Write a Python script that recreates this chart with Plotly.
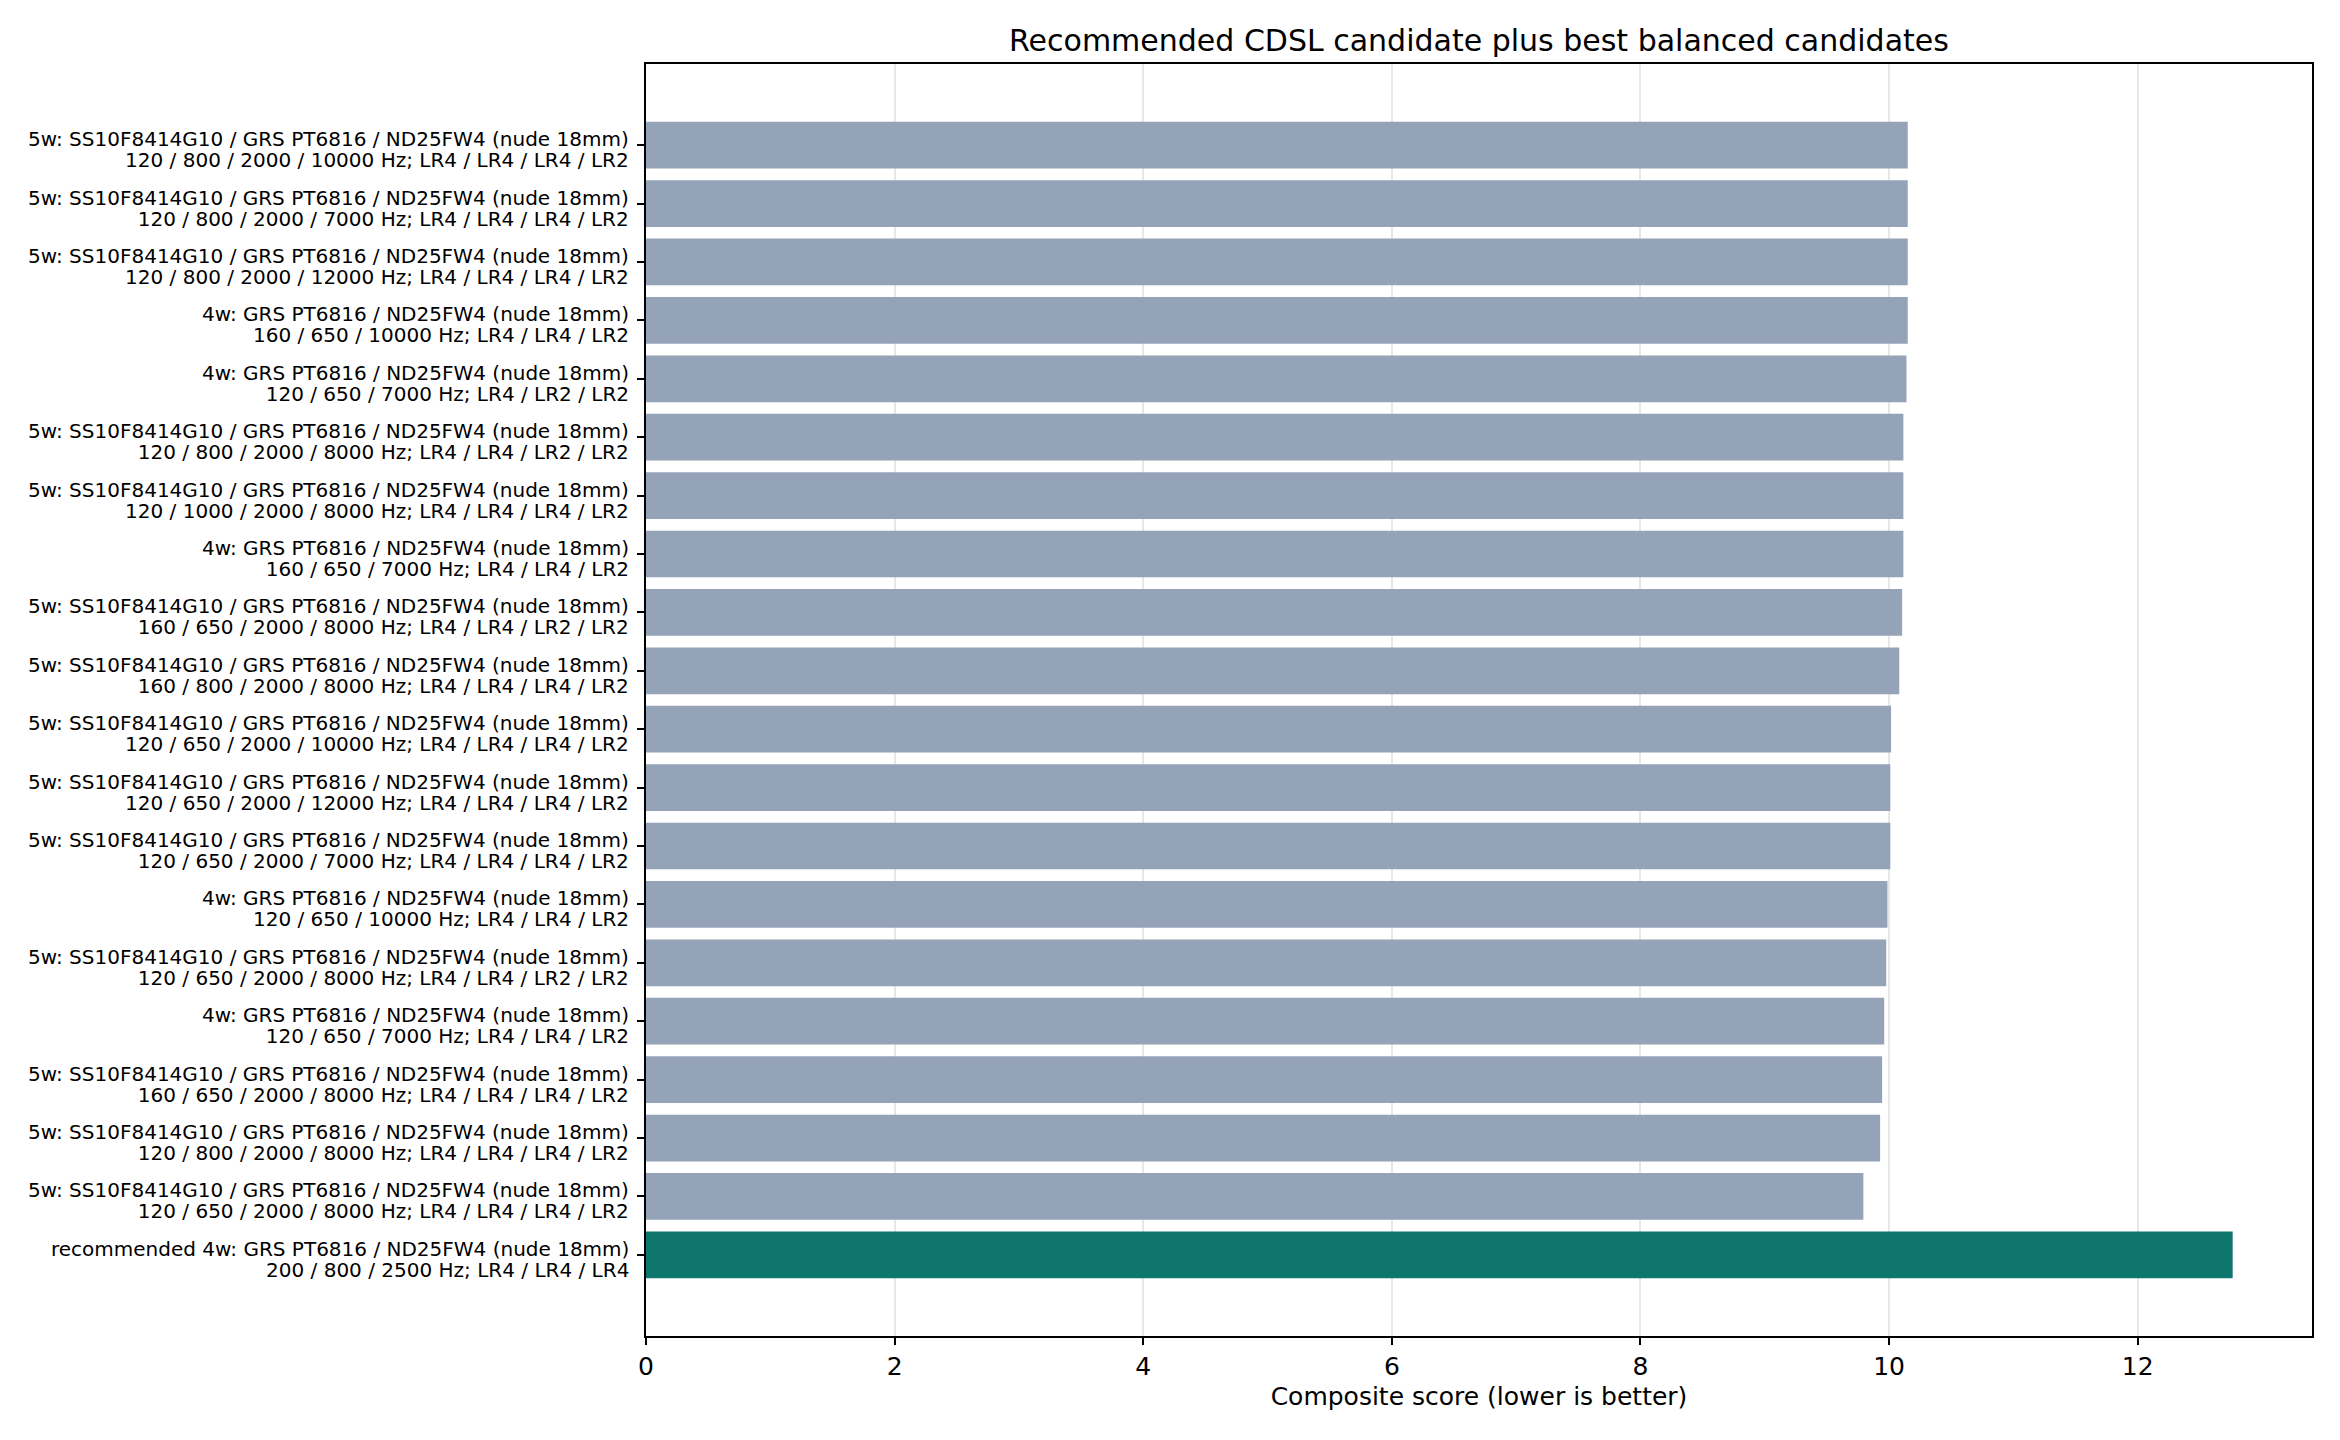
import plotly.graph_objects as go

line1_5w = "5w: SS10F8414G10 / GRS PT6816 / ND25FW4 (nude 18mm)"
line1_4w = "4w: GRS PT6816 / ND25FW4 (nude 18mm)"
line1_rec = "recommended 4w: GRS PT6816 / ND25FW4 (nude 18mm)"

# top to bottom as displayed
first_lines = [
    line1_5w, line1_5w, line1_5w, line1_4w, line1_4w,
    line1_5w, line1_5w, line1_4w, line1_5w, line1_5w,
    line1_5w, line1_5w, line1_5w, line1_4w, line1_5w,
    line1_4w, line1_5w, line1_5w, line1_5w, line1_rec,
]
second_lines = [
    "120 / 800 / 2000 / 10000 Hz; LR4 / LR4 / LR4 / LR2",
    "120 / 800 / 2000 / 7000 Hz; LR4 / LR4 / LR4 / LR2",
    "120 / 800 / 2000 / 12000 Hz; LR4 / LR4 / LR4 / LR2",
    "160 / 650 / 10000 Hz; LR4 / LR4 / LR2",
    "120 / 650 / 7000 Hz; LR4 / LR2 / LR2",
    "120 / 800 / 2000 / 8000 Hz; LR4 / LR4 / LR2 / LR2",
    "120 / 1000 / 2000 / 8000 Hz; LR4 / LR4 / LR4 / LR2",
    "160 / 650 / 7000 Hz; LR4 / LR4 / LR2",
    "160 / 650 / 2000 / 8000 Hz; LR4 / LR4 / LR2 / LR2",
    "160 / 800 / 2000 / 8000 Hz; LR4 / LR4 / LR4 / LR2",
    "120 / 650 / 2000 / 10000 Hz; LR4 / LR4 / LR4 / LR2",
    "120 / 650 / 2000 / 12000 Hz; LR4 / LR4 / LR4 / LR2",
    "120 / 650 / 2000 / 7000 Hz; LR4 / LR4 / LR4 / LR2",
    "120 / 650 / 10000 Hz; LR4 / LR4 / LR2",
    "120 / 650 / 2000 / 8000 Hz; LR4 / LR4 / LR2 / LR2",
    "120 / 650 / 7000 Hz; LR4 / LR4 / LR2",
    "160 / 650 / 2000 / 8000 Hz; LR4 / LR4 / LR4 / LR2",
    "120 / 800 / 2000 / 8000 Hz; LR4 / LR4 / LR4 / LR2",
    "120 / 650 / 2000 / 8000 Hz; LR4 / LR4 / LR4 / LR2",
    "200 / 800 / 2500 Hz; LR4 / LR4 / LR4",
]
scores = [
    10.150, 10.150, 10.150, 10.150, 10.140,
    10.115, 10.115, 10.115, 10.105, 10.082,
    10.016, 10.010, 10.010, 9.987, 9.977,
    9.961, 9.944, 9.928, 9.793, 12.764,
]
is_recommended = [False] * 19 + [True]

GREY = "#94a3b8"
TEAL = "#0f766e"

n = len(scores)
ypos = [n - 1 - i for i in range(n)]
span = '<span style="font-size:20px">{}</span>'
labels = [span.format(a) + "<br>" + span.format(b)
          for a, b in zip(first_lines, second_lines)]
colors = [TEAL if r else GREY for r in is_recommended]

fig = go.Figure()
fig.add_trace(go.Bar(
    x=scores, y=ypos, orientation="h",
    marker=dict(color=colors, line=dict(width=0)),
    width=0.8, showlegend=False,
))

# category labels drawn next to the y ticks
for yv, lab in zip(ypos, labels):
    fig.add_annotation(
        x=0, xref="paper", y=yv, yref="y",
        text=lab, showarrow=False,
        xanchor="right", yanchor="middle", align="right",
        xshift=-15, yshift=-4.5,
        font=dict(size=16.5, family="DejaVu Sans", color="black"),
    )

xmax = max(scores) * 1.05
fig.update_layout(
    width=2340, height=1440,
    margin=dict(l=646, r=28, t=64, b=104, autoexpand=False),
    paper_bgcolor="white", plot_bgcolor="white",
    font=dict(family="DejaVu Sans", color="black"),
    title=dict(
        text="Recommended CDSL candidate plus best balanced candidates",
        x=(646 + 2312) / 2 / 2340, xanchor="center",
        y=1 - 40 / 1440, yanchor="middle",
        font=dict(size=30, family="DejaVu Sans", color="black"),
    ),
    xaxis=dict(
        range=[0, xmax],
        tickvals=[0, 2, 4, 6, 8, 10, 12],
        tickfont=dict(size=25),
        ticks="outside", ticklen=7, tickwidth=1.6, tickcolor="black",
        showline=True, linecolor="black", linewidth=1.6, mirror=True,
        showgrid=True, gridcolor="rgba(176,176,176,0.3)", gridwidth=1.5,
        zeroline=False,
        layer="above traces",
        title=dict(text="Composite score (lower is better)",
                   font=dict(size=25), standoff=8),
    ),
    yaxis=dict(
        range=[-1.39, n - 1 + 1.39],
        tickvals=ypos,
        showticklabels=False,
        ticks="outside", ticklen=7, tickwidth=1.6, tickcolor="black",
        showline=True, linecolor="black", linewidth=1.6, mirror=True,
        showgrid=False, zeroline=False,
        automargin=False,
    ),
)

fig.write_html("out.html")
